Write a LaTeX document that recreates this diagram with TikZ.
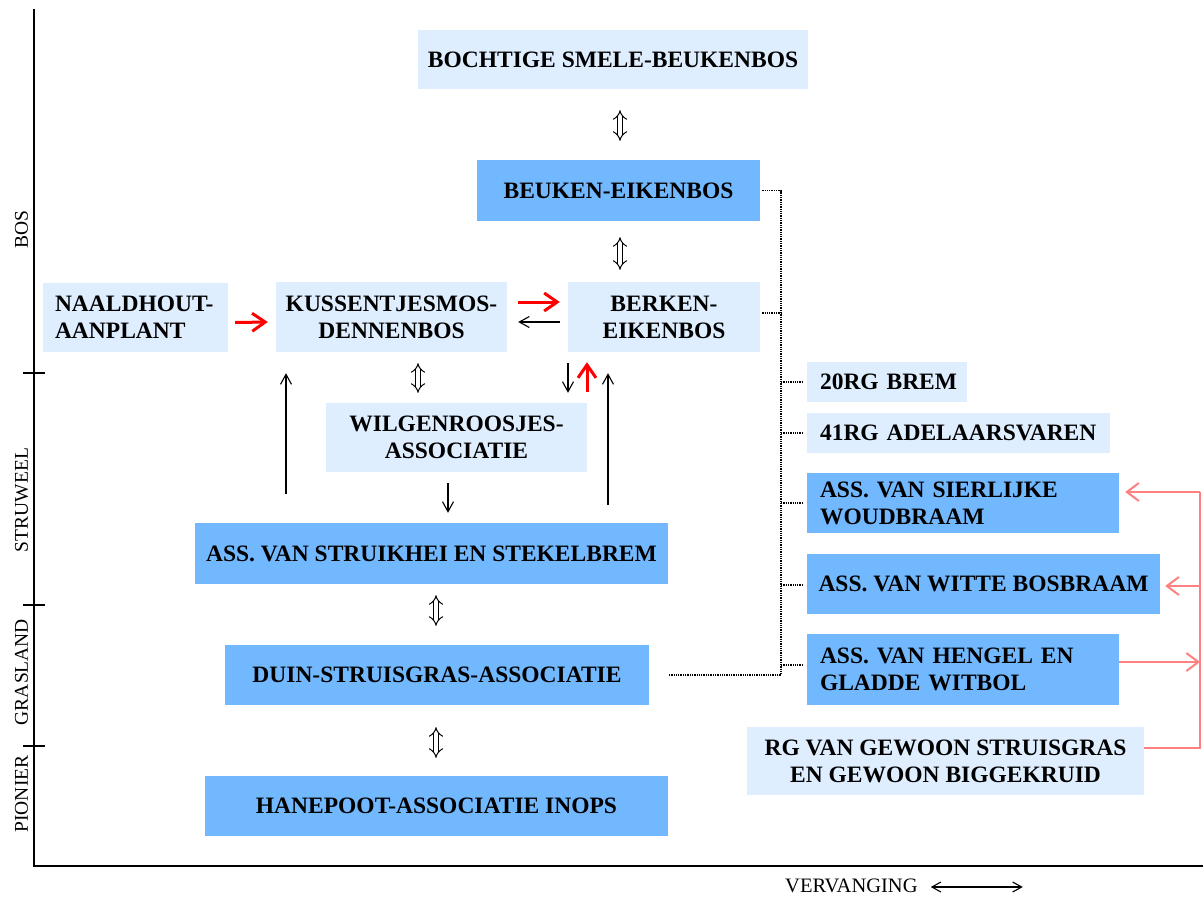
\documentclass[tikz,border=0pt]{standalone}
\usepackage{fontspec}
\setmainfont{Liberation Serif}
\usetikzlibrary{arrows.meta,calc}
\definecolor{lightb}{HTML}{DFEEFF}
\definecolor{darkb}{HTML}{72B8FF}
\definecolor{pinkc}{HTML}{FF8080}
\begin{document}
\begin{tikzpicture}[x=1pt,y=-1pt,
  box/.style={inner sep=0pt, font=\bfseries\fontsize{23.5}{27}\selectfont, align=center},
  lb/.style={box, fill=lightb},
  db/.style={box, fill=darkb},
  sz/.style 2 args={minimum width=#1pt, minimum height=#2pt},
  la/.style={align=left, text width=#1pt},
  blk/.style={line width=1.2pt, -{Straight Barb[length=10pt,width=11pt,line width=1.1pt]}},
  redarr/.style={draw=red, line width=3pt, -{Straight Barb[length=13pt,width=18pt]}},
  pk/.style={draw=pinkc, line width=2pt},
  pkarr/.style={pk, -{Straight Barb[length=12pt,width=18pt]}},
  dbl/.style={double, double distance=4pt, line width=1pt, {Implies}-{Implies}},
  dot/.style={densely dotted, line width=1.3pt},
  axl/.style={font=\fontsize{19.5}{22}\selectfont, rotate=90}
]
\useasboundingbox (0,0) rectangle (1203,898);

% axes
\coordinate (o) at (34,866);
\draw[line width=1.3pt] (34,9) -- (o) -- (1203,866);
\draw[line width=1.3pt] (23,373) -- (45,373);
\draw[line width=1.3pt] (23,605) -- (45,605);
\draw[line width=1.3pt] (23,746) -- (45,746);
\node[axl] (bos) at (21.5,230) {BOS};
\node[axl] (stru) at (21.5,500) {STRUWEEL};
\node[axl] (gras) at (21.5,672) {GRASLAND};
\node[axl] (pion) at (21.5,794) {PIONIER};
\node[font=\fontsize{20.5}{23}\selectfont, anchor=west, inner sep=0pt] (verv) at (785,886) {VERVANGING};
\draw[line width=1.1pt, {Straight Barb[length=9pt,width=10pt]}-{Straight Barb[length=9pt,width=10pt]}] ($(verv.east)+(13,1)$) -- ++(92,0) coordinate (vend);

% boxes
\node[lb, sz={390}{59}] (boch) at (613,59.5) {BOCHTIGE SMELE-BEUKENBOS};
\node[db, sz={283}{61}] (beuk) at (618.5,190.5) {BEUKEN-EIKENBOS};
\node[lb, sz={185}{69}, la=161] (naald) at (135.5,317.5) {NAALDHOUT-\\AANPLANT};
\node[lb, sz={231}{70}] (kus) at (391.5,317) {KUSSENTJESMOS-\\DENNENBOS};
\node[lb, sz={192}{70}] (berk) at (664,317) {BERKEN-\\EIKENBOS};
\node[lb, sz={261}{69}] (wilg) at (456.5,437.5) {WILGENROOSJES-\\ASSOCIATIE};
\node[db, sz={473}{61}] (struik) at (431.5,553.5) {ASS. VAN STRUIKHEI EN STEKELBREM};
\node[db, sz={424}{60}] (duin) at (437,675) {DUIN-STRUISGRAS-ASSOCIATIE};
\node[db, sz={463}{60}] (hane) at (436.5,806) {HANEPOOT-ASSOCIATIE INOPS};
\node[lb, sz={160}{40}, la=134] (brem) at (887,382) {20RG~BREM};
\node[lb, sz={303}{40}, la=277] (adel) at (958.5,433) {41RG~ADELAARSVAREN};
\node[db, sz={312}{60}, la=286] (sier) at (963,503) {ASS. VAN SIERLIJKE\\WOUDBRAAM};
\node[db, sz={353}{60}] (witte) at (983.5,584) {ASS. VAN WITTE BOSBRAAM};
\node[db, sz={312}{71}, la=286] (heng) at (963,669.5) {ASS. VAN HENGEL EN\\GLADDE WITBOL};
\node[lb, sz={397}{68}] (rg) at (945.5,761) {RG VAN GEWOON STRUISGRAS\\EN GEWOON BIGGEKRUID};

% succession arrows
\draw[dbl] ($(boch.south)+(7,21)$) -- ($(beuk.north)+(1.5,-19)$);
\draw[dbl] ($(beuk.south)+(1.5,16)$) -- ($(berk.north)+(-44,-12)$);
\draw[redarr] ($(naald.east)+(7,5)$) -- ($(kus.west)+(-8,5)$);
\draw[redarr] ($(kus.east)+(11,-15)$) -- ($(berk.west)+(-8,-15)$);
\draw[blk] ($(berk.west)+(-8,5)$) -- ($(kus.east)+(11,5)$);
\draw[dbl] ($(kus.south)+(26.5,11)$) -- ($(wilg.north)+(-38.5,-10)$);
\draw[blk] ($(berk.south)+(-96,11)$) -- ($(wilg.north)+(111.5,-10)$);
\draw[redarr] ($(wilg.north)+(130.5,-11)$) -- ($(berk.south)+(-77,10)$);
\draw[blk] ($(struik.north)+(176.5,-18)$) -- ($(berk.south)+(-56,21)$);
\draw[blk] ($(struik.north)+(-145.5,-29)$) -- ($(kus.south)+(-105.5,21)$);
\draw[blk] ($(wilg.south)+(-8.5,11)$) -- ($(struik.north)+(16.5,-10)$);
\draw[dbl] ($(struik.south)+(4.5,11)$) -- ($(duin.north)+(-1,-19)$);
\draw[dbl] ($(duin.south)+(-1,22)$) -- ($(hane.north)+(-0.5,-18)$);

% dotted connectors
\coordinate (tr) at (781,0);
\draw[dot] ($(beuk.east)+(2,0)$) -- (beuk.east -| tr) -- (tr |- duin.east) -- ($(duin.east)+(20,0)$);
\draw[dot] ($(berk.east)+(2,-4)$) -- ($(berk.east -| tr)+(0,-4)$);
\draw[dot] (tr |- brem.west) -- ($(brem.west)+(-5,0)$);
\draw[dot] (tr |- adel.west) -- ($(adel.west)+(-5,0)$);
\draw[dot] (tr |- sier.west) -- ($(sier.west)+(-5,0)$);
\draw[dot] ($(tr |- witte.west)+(0,1)$) -- ($(witte.west)+(-5,1)$);
\draw[dot] ($(tr |- heng.west)+(0,-4.5)$) -- ($(heng.west)+(-5,-4.5)$);

% pink connectors
\coordinate (pv) at (1200,0);
\draw[pk] ($(rg.east)+(0,-13)$) -- ($(pv |- rg.east)+(0,-13)$) -- ($(pv |- sier.east)+(0,-11)$);
\draw[pkarr] ($(pv |- sier.east)+(0,-11)$) -- ($(sier.east)+(6,-11)$);
\draw[pkarr] ($(pv |- witte.east)+(0,2)$) -- ($(witte.east)+(5,2)$);
\draw[pkarr] ($(heng.east)+(0,-7.5)$) -- ($(pv |- heng.east)+(0,-7.5)$);
\end{tikzpicture}
\end{document}
